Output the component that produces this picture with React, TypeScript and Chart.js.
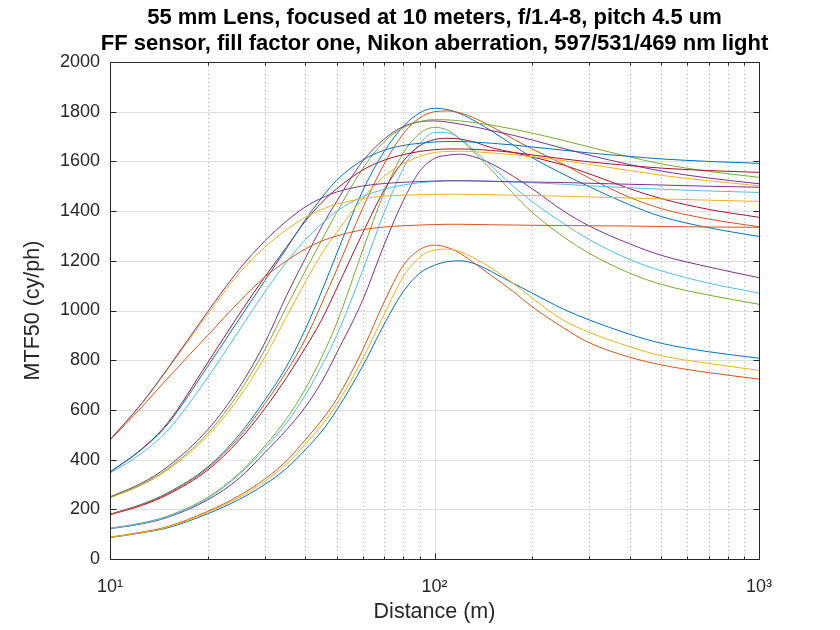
import React, { useEffect, useRef } from 'react';
import { Chart, registerables } from 'chart.js';

Chart.register(...registerables);

const DIST = [10, 12.5, 15, 20, 25, 30, 35, 40, 45, 50, 60, 70, 80, 90, 100, 110, 120, 135, 150, 175, 200, 250, 300, 400, 500, 700, 1000];

// MTF50 (cy/ph) series, in plotting order
const S01 = [86, 105, 125, 182, 240, 300, 365, 440, 515, 600, 775, 945, 1075, 1150, 1182, 1197, 1200, 1185, 1156, 1109, 1070, 1005, 962, 904, 868, 834, 808];
const S02 = [88, 108, 130, 192, 255, 322, 395, 480, 560, 645, 840, 1035, 1180, 1245, 1263, 1253, 1230, 1183, 1140, 1076, 1015, 930, 870, 812, 781, 750, 724];
const S03 = [87, 106, 128, 187, 248, 312, 382, 462, 540, 622, 805, 985, 1135, 1215, 1243, 1247, 1237, 1205, 1170, 1109, 1050, 960, 912, 854, 818, 787, 759];
const S04 = [122, 141, 167, 238, 325, 428, 520, 612, 715, 830, 1040, 1265, 1440, 1560, 1612, 1625, 1629, 1615, 1590, 1540, 1490, 1400, 1340, 1268, 1222, 1175, 1132];
const S05 = [124, 145, 172, 248, 345, 455, 565, 685, 815, 950, 1240, 1475, 1632, 1712, 1737, 1725, 1690, 1625, 1565, 1470, 1395, 1296, 1230, 1150, 1105, 1062, 1025];
const S06 = [123, 143, 170, 244, 340, 445, 548, 660, 780, 900, 1160, 1395, 1570, 1672, 1716, 1715, 1690, 1635, 1580, 1500, 1438, 1350, 1285, 1205, 1160, 1110, 1070];
const S07 = [178, 215, 258, 358, 478, 605, 730, 850, 965, 1090, 1310, 1485, 1600, 1663, 1688, 1693, 1690, 1675, 1655, 1636, 1618, 1585, 1550, 1490, 1450, 1407, 1375];
const S08 = [180, 220, 265, 370, 500, 640, 775, 925, 1080, 1230, 1480, 1640, 1740, 1795, 1814, 1808, 1792, 1758, 1722, 1665, 1615, 1548, 1498, 1425, 1378, 1333, 1298];
const S09 = [180, 218, 262, 365, 490, 625, 755, 885, 1030, 1165, 1410, 1590, 1710, 1775, 1800, 1803, 1795, 1770, 1740, 1690, 1650, 1588, 1533, 1455, 1410, 1368, 1337];
const S10 = [246, 297, 357, 495, 650, 812, 975, 1115, 1230, 1315, 1450, 1540, 1590, 1620, 1636, 1640, 1641, 1638, 1634, 1627, 1619, 1603, 1588, 1563, 1544, 1522, 1502];
const S11 = [250, 305, 370, 520, 690, 870, 1060, 1210, 1340, 1440, 1600, 1690, 1740, 1760, 1763, 1758, 1750, 1737, 1724, 1705, 1686, 1652, 1625, 1587, 1561, 1533, 1510];
const S12 = [248, 300, 362, 505, 670, 842, 1015, 1160, 1285, 1395, 1570, 1680, 1735, 1760, 1768, 1767, 1763, 1755, 1746, 1730, 1714, 1684, 1658, 1618, 1590, 1560, 1536];
const S13 = [345, 425, 515, 730, 920, 1075, 1195, 1285, 1350, 1400, 1458, 1488, 1505, 1514, 1519, 1522, 1523, 1522, 1520, 1517, 1514, 1508, 1502, 1494, 1488, 1481, 1475];
const S14 = [350, 442, 545, 790, 985, 1135, 1255, 1360, 1435, 1490, 1565, 1605, 1627, 1640, 1647, 1650, 1650, 1648, 1644, 1636, 1626, 1610, 1598, 1583, 1573, 1563, 1556];
const S15 = [350, 440, 540, 775, 965, 1120, 1250, 1365, 1455, 1525, 1605, 1645, 1664, 1673, 1678, 1680, 1680, 1677, 1673, 1666, 1658, 1645, 1634, 1620, 1610, 1600, 1592];
const S16 = [478, 610, 725, 900, 1035, 1135, 1200, 1248, 1280, 1300, 1325, 1336, 1341, 1344, 1346, 1347, 1347, 1346, 1345, 1344, 1343, 1342, 1341, 1340, 1338, 1336, 1335];
const S17 = [480, 623, 760, 985, 1150, 1255, 1325, 1375, 1407, 1428, 1450, 1460, 1464, 1466, 1467, 1468, 1468, 1467, 1466, 1464, 1462, 1460, 1457, 1453, 1449, 1444, 1439];
const S18 = [480, 625, 764, 995, 1165, 1280, 1360, 1417, 1453, 1477, 1501, 1511, 1516, 1519, 1521, 1522, 1522, 1521, 1520, 1518, 1517, 1515, 1512, 1508, 1505, 1500, 1496];

const SERIES = [S01, S02, S03, S04, S05, S06, S07, S08, S09, S10, S11, S12, S13, S14, S15, S16, S17, S18];

const COLORS = ['#0072BD', '#D95319', '#EDB120', '#7E2F8E', '#77AC30', '#4DBEEE', '#A2142F'];

const TITLE_LINES = [
  '55 mm Lens, focused at 10 meters, f/1.4-8, pitch 4.5 um',
  'FF sensor, fill factor one, Nikon aberration, 597/531/469 nm light',
];
const X_LABEL = 'Distance (m)';
const Y_LABEL = 'MTF50 (cy/ph)';

const X_MAJOR = [10, 100, 1000];
const X_MAJOR_LABELS = ['10\u00B9', '10\u00B2', '10\u00B3'];
const X_MINOR = [20, 30, 40, 50, 60, 70, 80, 90, 200, 300, 400, 500, 600, 700, 800, 900];
const Y_TICKS = [0, 200, 400, 600, 800, 1000, 1200, 1400, 1600, 1800, 2000];

const FONT = "'Liberation Sans', Arial, Helvetica, sans-serif";
const AXIS_COLOR = '#262626';

const matlabAxes = {
  id: 'matlabAxes',
  beforeDatasetsDraw(chart: any) {
    const { ctx, chartArea: a, scales } = chart;
    const x = scales.x;
    const y = scales.y;
    ctx.save();
    ctx.lineWidth = 1;
    ctx.strokeStyle = '#dfdfdf';
    ctx.setLineDash([]);
    for (const v of Y_TICKS) {
      const py = Math.round(y.getPixelForValue(v)) + 0.5;
      ctx.beginPath();
      ctx.moveTo(a.left, py);
      ctx.lineTo(a.right, py);
      ctx.stroke();
    }
    for (const v of X_MAJOR) {
      const px = Math.round(x.getPixelForValue(v)) + 0.5;
      ctx.beginPath();
      ctx.moveTo(px, a.top);
      ctx.lineTo(px, a.bottom);
      ctx.stroke();
    }
    ctx.strokeStyle = '#b4b4b4';
    ctx.setLineDash([1, 3]);
    for (const v of X_MINOR) {
      const px = Math.round(x.getPixelForValue(v)) + 0.5;
      ctx.beginPath();
      ctx.moveTo(px, a.top);
      ctx.lineTo(px, a.bottom);
      ctx.stroke();
    }
    ctx.restore();
  },
  afterDatasetsDraw(chart: any) {
    const { ctx, chartArea: a, scales } = chart;
    const x = scales.x;
    const y = scales.y;
    ctx.save();
    ctx.setLineDash([]);
    ctx.strokeStyle = AXIS_COLOR;
    ctx.lineWidth = 1;
    const L = Math.round(a.left) + 0.5;
    const R = Math.round(a.right) + 0.5;
    const T = Math.round(a.top) + 0.5;
    const B = Math.round(a.bottom) + 0.5;
    ctx.beginPath();
    ctx.moveTo(L, T); ctx.lineTo(R, T); ctx.lineTo(R, B); ctx.lineTo(L, B); ctx.closePath();
    ctx.stroke();
    ctx.beginPath();
    for (const v of Y_TICKS) {
      const py = Math.round(y.getPixelForValue(v)) + 0.5;
      ctx.moveTo(L, py); ctx.lineTo(L + 6, py);
      ctx.moveTo(R, py); ctx.lineTo(R - 6, py);
    }
    for (const v of X_MAJOR) {
      const px = Math.round(x.getPixelForValue(v)) + 0.5;
      ctx.moveTo(px, B); ctx.lineTo(px, B - 6);
      ctx.moveTo(px, T); ctx.lineTo(px, T + 6);
    }
    for (const v of X_MINOR) {
      const px = Math.round(x.getPixelForValue(v)) + 0.5;
      ctx.moveTo(px, B); ctx.lineTo(px, B - 3);
      ctx.moveTo(px, T); ctx.lineTo(px, T + 3);
    }
    ctx.stroke();
    // title
    ctx.fillStyle = '#000000';
    ctx.font = `bold 22px ${FONT}`;
    ctx.textAlign = 'center';
    ctx.textBaseline = 'middle';
    const cx = (a.left + a.right) / 2;
    ctx.fillText(TITLE_LINES[0], cx, 18);
    ctx.fillText(TITLE_LINES[1], cx, 44);
    ctx.restore();
  },
};

export default function App() {
  const ref = useRef<HTMLCanvasElement | null>(null);
  useEffect(() => {
    if (!ref.current) return;
    const datasets = SERIES.map((s, i) => ({
      label: `Curve ${i + 1}`,
      data: DIST.map((d, k) => ({ x: d, y: s[k] })),
      borderColor: COLORS[i % COLORS.length],
      backgroundColor: COLORS[i % COLORS.length],
      borderWidth: 1,
      pointRadius: 0,
      fill: false,
      cubicInterpolationMode: 'monotone' as const,
      order: SERIES.length - 1 - i,
    }));
    const chart = new Chart(ref.current, {
      type: 'line',
      data: { datasets },
      options: {
        responsive: false,
        animation: false,
        devicePixelRatio: 1,
        layout: { padding: { left: 0, right: 81, top: 62, bottom: 0 } },
        plugins: {
          legend: { display: false },
          title: { display: false },
          tooltip: { enabled: false },
        },
        scales: {
          x: {
            type: 'logarithmic',
            min: 10,
            max: 1000,
            position: 'bottom',
            grid: { display: false, drawTicks: false },
            border: { display: false },
            afterBuildTicks: (s: any) => {
              s.ticks = [...X_MAJOR, ...X_MINOR].sort((p, q) => p - q).map((v) => ({ value: v }));
            },
            afterFit: (s: any) => { s.height = 71; },
            ticks: {
              autoSkip: false,
              maxRotation: 0,
              minRotation: 0,
              padding: 17,
              color: AXIS_COLOR,
              font: { family: FONT, size: 18 },
              callback: (v: any) => {
                const idx = X_MAJOR.indexOf(Number(v));
                return idx >= 0 ? X_MAJOR_LABELS[idx] : '';
              },
            },
            title: {
              display: true,
              text: X_LABEL,
              color: AXIS_COLOR,
              font: { family: FONT, size: 21.5 },
              padding: { top: 0, bottom: 5 },
            },
          },
          y: {
            type: 'linear',
            min: 0,
            max: 2000,
            grid: { display: false, drawTicks: false },
            border: { display: false },
            afterFit: (s: any) => { s.width = 110; },
            afterBuildTicks: (s: any) => {
              s.ticks = Y_TICKS.map((v) => ({ value: v }));
            },
            ticks: {
              padding: 10,
              color: AXIS_COLOR,
              font: { family: FONT, size: 18 },
              callback: (v: any) => String(v),
            },
            title: {
              display: true,
              text: Y_LABEL,
              color: AXIS_COLOR,
              font: { family: FONT, size: 21.5 },
              padding: { top: 20, bottom: 0 },
            },
          },
        },
      },
      plugins: [matlabAxes],
    });
    return () => chart.destroy();
  }, []);
  return (
    <div style={{ position: 'absolute', left: 0, top: 0, width: 840, height: 630, background: '#ffffff' }}>
      <canvas ref={ref} width={840} height={630} style={{ display: 'block' }} />
    </div>
  );
}
